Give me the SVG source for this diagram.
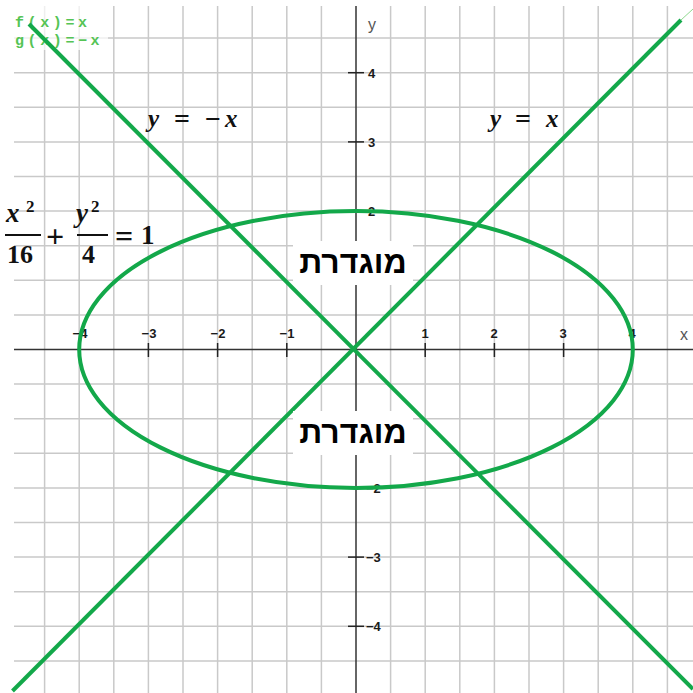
<svg xmlns="http://www.w3.org/2000/svg" width="693" height="693" viewBox="0 0 693 693">
<style>
.grid line{stroke:#c9c9c9;stroke-width:1.5}
.axis{stroke:#333;stroke-width:1.5}
.tick line{stroke:#222;stroke-width:1.5}
.lbl{font-family:"Liberation Sans",Arial,sans-serif;font-weight:bold;font-size:13px;fill:#1a1a1a}
.curve{fill:none;stroke:#13a84a;stroke-width:4}
.math{font-family:"Liberation Serif","Times New Roman",serif;font-weight:bold;fill:#111}
.mi{font-style:italic}
.heb{font-family:"Liberation Sans","DejaVu Sans",sans-serif;font-size:32px;font-weight:bold;fill:#000}
.leg{font-family:"Liberation Mono","DejaVu Sans Mono",monospace;font-size:15px;letter-spacing:3.6px;font-weight:bold;fill:#55c455}
.axname{font-family:"Liberation Sans",Arial,sans-serif;font-size:16px;fill:#555}
</style>
<rect width="693" height="693" fill="#fff"/>
<g id="grid" class="grid">
<line x1="44.6" y1="6" x2="44.6" y2="693"/><line x1="79.2" y1="6" x2="79.2" y2="693"/><line x1="113.8" y1="6" x2="113.8" y2="693"/><line x1="148.4" y1="6" x2="148.4" y2="693"/><line x1="183" y1="6" x2="183" y2="693"/><line x1="217.6" y1="6" x2="217.6" y2="693"/><line x1="252.2" y1="6" x2="252.2" y2="693"/><line x1="286.8" y1="6" x2="286.8" y2="693"/><line x1="321.4" y1="6" x2="321.4" y2="693"/><line x1="390.6" y1="6" x2="390.6" y2="693"/><line x1="425.2" y1="6" x2="425.2" y2="693"/><line x1="459.8" y1="6" x2="459.8" y2="693"/><line x1="494.4" y1="6" x2="494.4" y2="693"/><line x1="529" y1="6" x2="529" y2="693"/><line x1="563.6" y1="6" x2="563.6" y2="693"/><line x1="598.2" y1="6" x2="598.2" y2="693"/><line x1="632.8" y1="6" x2="632.8" y2="693"/><line x1="667.4" y1="6" x2="667.4" y2="693"/>
<line x1="14" y1="38.1" x2="693" y2="38.1"/><line x1="14" y1="72.7" x2="693" y2="72.7"/><line x1="14" y1="107.3" x2="693" y2="107.3"/><line x1="14" y1="141.9" x2="693" y2="141.9"/><line x1="14" y1="176.5" x2="693" y2="176.5"/><line x1="14" y1="211.1" x2="693" y2="211.1"/><line x1="14" y1="245.7" x2="693" y2="245.7"/><line x1="14" y1="280.3" x2="693" y2="280.3"/><line x1="14" y1="314.9" x2="693" y2="314.9"/><line x1="14" y1="384.1" x2="693" y2="384.1"/><line x1="14" y1="418.7" x2="693" y2="418.7"/><line x1="14" y1="453.3" x2="693" y2="453.3"/><line x1="14" y1="487.9" x2="693" y2="487.9"/><line x1="14" y1="522.5" x2="693" y2="522.5"/><line x1="14" y1="557.1" x2="693" y2="557.1"/><line x1="14" y1="591.7" x2="693" y2="591.7"/><line x1="14" y1="626.3" x2="693" y2="626.3"/><line x1="14" y1="660.9" x2="693" y2="660.9"/>
</g>
<rect x="12" y="6" width="96" height="44" fill="#fff" opacity="0.7"/>
<g id="axes">
<line class="axis" x1="356" y1="6" x2="356" y2="693"/>
<line class="axis" x1="14" y1="349.5" x2="693" y2="349.5"/>
<g class="tick">
<line x1="79.2" y1="343" x2="79.2" y2="357"/><line x1="148.4" y1="343" x2="148.4" y2="357"/><line x1="217.6" y1="343" x2="217.6" y2="357"/><line x1="286.8" y1="343" x2="286.8" y2="357"/><line x1="425.2" y1="343" x2="425.2" y2="357"/><line x1="494.4" y1="343" x2="494.4" y2="357"/><line x1="563.6" y1="343" x2="563.6" y2="357"/><line x1="632.8" y1="343" x2="632.8" y2="357"/>
<line x1="348" y1="72.7" x2="364" y2="72.7"/><line x1="348" y1="141.9" x2="364" y2="141.9"/><line x1="348" y1="211.1" x2="364" y2="211.1"/><line x1="348" y1="280.3" x2="364" y2="280.3"/><line x1="348" y1="418.7" x2="364" y2="418.7"/><line x1="348" y1="487.9" x2="364" y2="487.9"/><line x1="348" y1="557.1" x2="364" y2="557.1"/><line x1="348" y1="626.3" x2="364" y2="626.3"/>
</g>
<g class="lbl" text-anchor="middle">
<text x="80" y="338">−4</text><text x="149" y="338">−3</text><text x="218" y="338">−2</text><text x="287" y="338">−1</text>
<text x="425" y="338">1</text><text x="494" y="338">2</text><text x="563" y="338">3</text><text x="632" y="338">4</text>
</g>
<g class="lbl">
<text x="368" y="78">4</text><text x="368" y="147">3</text><text x="368" y="216">2</text>
<text x="366" y="493">−2</text><text x="366" y="562">−3</text><text x="366" y="631">−4</text>
</g>
<text class="axname" x="368" y="30">y</text>
<text class="axname" x="680" y="340">x</text>
</g>
<g id="legend">
<text class="leg" x="15" y="27">f(x)=x</text>
<text class="leg" x="15" y="45">g(x)=−x</text>
</g>
<g id="curves">
<ellipse id="ellipse" class="curve" cx="356" cy="349.5" rx="276.8" ry="138.4"/>
<line id="line-yx" class="curve" x1="12.5" y1="691" x2="681" y2="20"/>
<line x1="681" y1="20" x2="693" y2="9" stroke="#8fd88f" stroke-width="1"/>
<line id="line-ynx" class="curve" x1="29" y1="24" x2="693" y2="689"/>
</g>
<g id="label-ynx" class="math" font-size="25">
<text x="148" y="127" class="mi">y</text>
<text x="174" y="128" font-size="28">=</text>
<text x="205" y="128" font-size="28">−</text>
<text x="225" y="127" class="mi">x</text>
</g>
<g id="label-yx" class="math" font-size="25">
<text x="490" y="127" class="mi">y</text>
<text x="515" y="128" font-size="28">=</text>
<text x="546" y="127" class="mi">x</text>
</g>
<g id="label-ellipse" class="math">
<text x="6" y="222" font-size="27" class="mi">x</text>
<text x="26" y="212" font-size="17">2</text>
<line x1="5" y1="235" x2="41" y2="235" stroke="#111" stroke-width="2"/>
<text x="7" y="263" font-size="26">16</text>
<text x="46" y="247" font-size="32">+</text>
<text x="76" y="222" font-size="27" class="mi">y</text>
<text x="91" y="212" font-size="17">2</text>
<line x1="77" y1="235" x2="108" y2="235" stroke="#111" stroke-width="2"/>
<text x="82" y="263" font-size="26">4</text>
<text x="115" y="247" font-size="32">=</text>
<text x="141" y="244" font-size="27">1</text>
</g>
<g id="label-top">
<rect x="293" y="241" width="120" height="44" fill="#fff"/>
<text class="heb" x="353" y="273" text-anchor="middle">מוגדרת</text>
</g>
<g id="label-bottom">
<rect x="293" y="411" width="120" height="44" fill="#fff"/>
<text class="heb" x="353" y="443" text-anchor="middle">מוגדרת</text>
</g>
</svg>
